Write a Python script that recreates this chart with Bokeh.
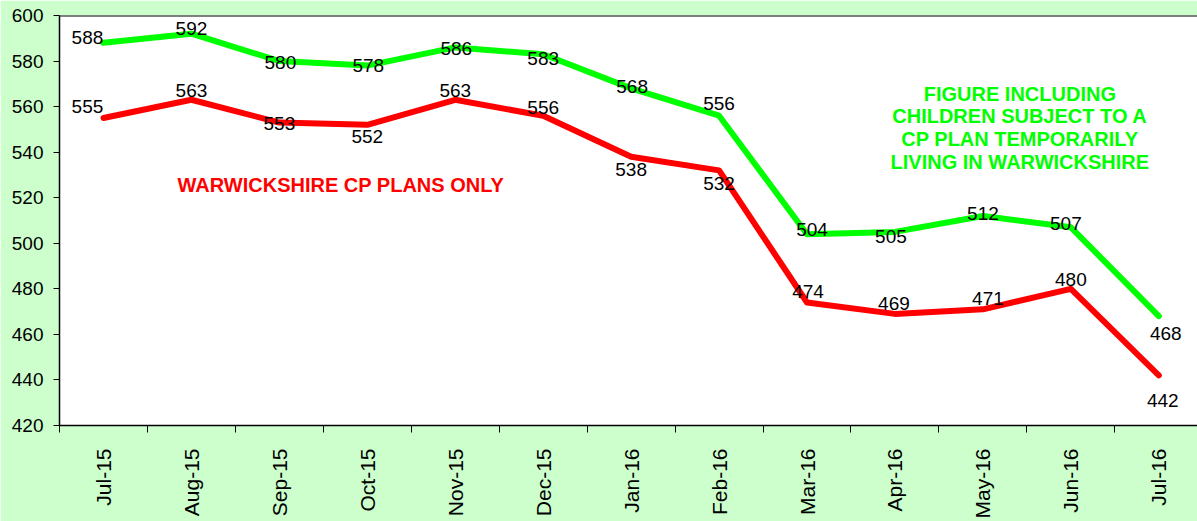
from bokeh.plotting import figure
from bokeh.models import Range1d, FixedTicker, ColumnDataSource, Span, Label
from bokeh.core.properties import value
from bokeh.embed import file_html
from bokeh.resources import INLINE

months = ["Jul-15", "Aug-15", "Sep-15", "Oct-15", "Nov-15", "Dec-15", "Jan-16",
          "Feb-16", "Mar-16", "Apr-16", "May-16", "Jun-16", "Jul-16"]
incl_temp = [588, 592, 580, 578, 586, 583, 568, 556, 504, 505, 512, 507, 468]
warks_only = [555, 563, 553, 552, 563, 556, 538, 532, 474, 469, 471, 480, 442]
y_ticks = [420, 440, 460, 480, 500, 520, 540, 560, 580, 600]

# label offsets (screen px) relative to each point
green_dx = [-16, 0, 1, 1, 1, 0, 1, 0, 5, -4, 0, -5, 7]
green_dy = [-5, -5, 1, 0, 1, 4, -2, -12, -5, 5, -2, -4, 17]
red_dx = [-16, 0, 0, 0, 0, 0, 0, 0, 1, -1, 5, 0, 4]
red_dy = [-12, -9, 1, 12, -9, -8, 13, 13, -11, -10, -11, -9, 25]

FONT = "Liberation Sans"
idx = list(range(len(months)))

p = figure(width=1197, height=521, output_backend="svg", toolbar_location=None,
           x_range=Range1d(-0.5, 12.44), y_range=Range1d(420, 600),
           min_border_left=59, min_border_right=0, min_border_top=15, min_border_bottom=93)
p.background_fill_color = "white"
p.border_fill_color = "#CCFFCC"
p.outline_line_color = None
p.xgrid.visible = False
p.ygrid.visible = False

p.add_layout(Span(location=600, dimension="width", line_color="black", line_width=2))

# axes
p.yaxis.ticker = FixedTicker(ticks=y_ticks)
p.yaxis.major_tick_out = 6
p.yaxis.major_tick_in = 0
p.yaxis.minor_tick_line_color = None
p.yaxis.axis_line_color = "black"
p.yaxis.axis_line_width = 1.5
p.yaxis.major_label_text_font = FONT
p.yaxis.major_label_text_font_size = "19px"
p.yaxis.major_label_text_color = "black"
p.yaxis.major_label_standoff = 10

p.xaxis.ticker = FixedTicker(ticks=idx, minor_ticks=[i - 0.5 for i in idx] + [12.5])
p.xaxis.major_label_overrides = {i: m for i, m in enumerate(months)}
p.xaxis.major_tick_line_color = None
p.xaxis.minor_tick_out = 7
p.xaxis.minor_tick_in = 0
p.xaxis.minor_tick_line_color = "black"
p.xaxis.axis_line_color = "black"
p.xaxis.axis_line_width = 1.5
p.xaxis.major_label_orientation = 1.5708
p.xaxis.major_label_text_font = FONT
p.xaxis.major_label_text_font_size = "21px"
p.xaxis.major_label_text_color = "black"
p.xaxis.major_label_standoff = 16

src_g = ColumnDataSource(dict(x=idx, y=incl_temp, t=[str(v) for v in incl_temp], dx=green_dx, dy=green_dy))
src_r = ColumnDataSource(dict(x=idx, y=warks_only, t=[str(v) for v in warks_only], dx=red_dx, dy=red_dy))

p.line("x", "y", source=src_g, line_color="#00FF00", line_width=6, line_cap="round", line_join="round")
p.line("x", "y", source=src_r, line_color="#FF0000", line_width=6, line_cap="round", line_join="round")

for s in (src_g, src_r):
    p.text("x", "y", text="t", source=s, x_offset="dx", y_offset="dy",
           text_font=value(FONT), text_font_size="19px", text_color="black",
           text_align="center", text_baseline="middle")

p.add_layout(Label(x=2.7, y=525.6, text="WARWICKSHIRE CP PLANS ONLY", text_font=FONT,
                   text_font_size="20px", text_font_style="bold", text_color="#FF0000",
                   text_align="center", text_baseline="middle"))

green_note = ["FIGURE INCLUDING", "CHILDREN SUBJECT TO A", "CP PLAN TEMPORARILY", "LIVING IN WARWICKSHIRE"]
for k, line in enumerate(green_note):
    p.add_layout(Label(x=10.42, y=565.6, y_offset=-22.6 * k, text=line, text_font=FONT,
                       text_font_size="20px", text_font_style="bold", text_color="#00FF00",
                       text_align="center", text_baseline="middle"))

open("out.html", "w").write(file_html(p, INLINE))
